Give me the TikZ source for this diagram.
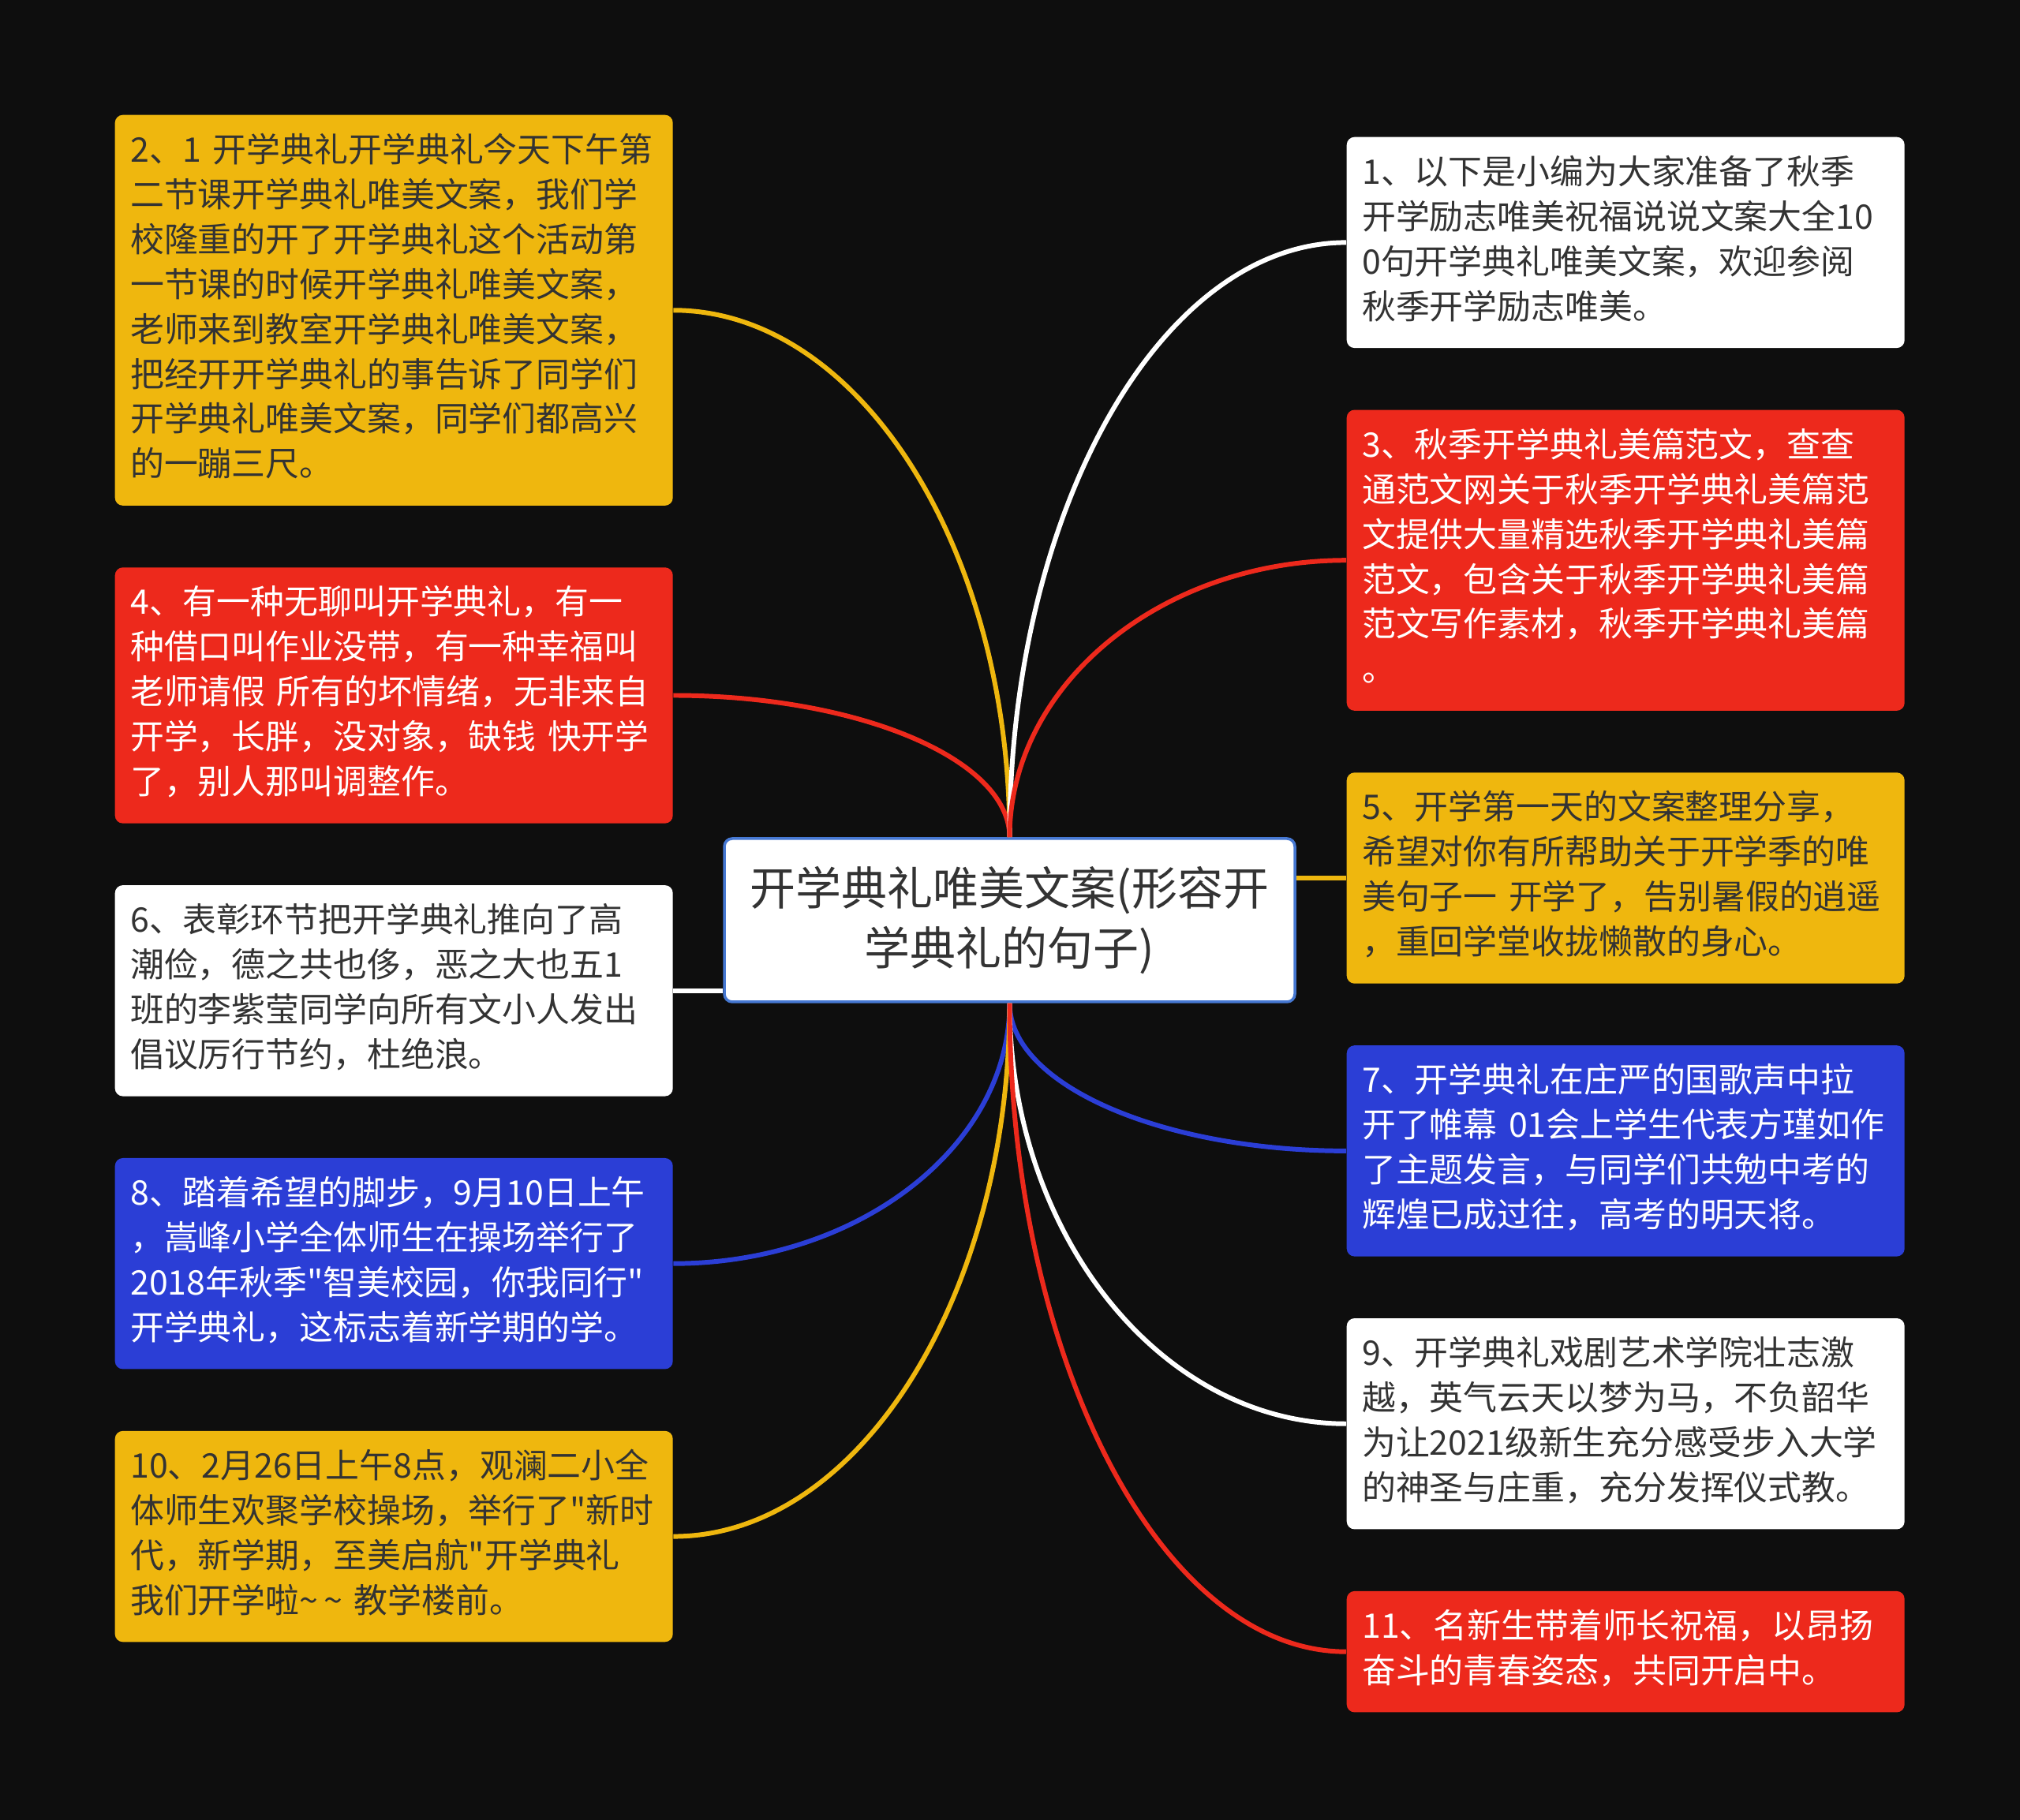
\documentclass[tikz,border=0pt]{standalone}
\usepackage{fontspec}
\setmainfont{Noto Sans CJK SC}
\usetikzlibrary{positioning,calc}
\definecolor{bgblack}{RGB}{14,14,14}
\definecolor{mapyellow}{RGB}{239,183,14}
\definecolor{mapred}{RGB}{237,41,28}
\definecolor{mapblue}{RGB}{43,62,214}
\definecolor{mapborder}{RGB}{70,120,210}
\definecolor{darktext}{RGB}{51,51,51}
\tikzstyle{box} = [rectangle, rounded corners=0.1cm, text width=6.68cm, align=left, inner xsep=0.195cm, inner ysep=5.65pt, font=\fontsize{12.2}{16.2}\selectfont, execute at begin node=\strut, execute at end node=\strut]
\tikzstyle{ybox} = [box, fill=mapyellow, text=darktext]
\tikzstyle{rbox} = [box, fill=mapred, text=white]
\tikzstyle{bbox} = [box, fill=mapblue, text=white]
\tikzstyle{wbox} = [box, fill=white, text=darktext]
\tikzstyle{main} = [rectangle, rounded corners=0.1cm, draw=mapborder, line width=1pt, fill=white, text=darktext, minimum width=7.23cm, minimum height=2.07cm, align=center, font=\fontsize{16.5}{21.8}\selectfont]
\tikzstyle{link} = [line width=1.7pt]
\tikzstyle{branch} = [link, to path={.. controls ($(\tikztostart)!0.55!(\tikztostart |- \tikztotarget)$) and ($(\tikztotarget)!0.55!(\tikztostart |- \tikztotarget)$) .. (\tikztotarget)}]

\begin{document}
\begin{tikzpicture}
    \fill[bgblack] (0,0) rectangle (25.6,23.07);
    \useasboundingbox (0,0) rectangle (25.6,23.07);

    \node [main] (root) at (12.795,11.405) {开学典礼唯美文案(形容开\\学典礼的句子)};

    % left column
    \node [ybox, anchor=north west] (n2) at (1.45,21.62) {2、1~开学典礼开学典礼今天下午第\\二节课开学典礼唯美文案，我们学\\校隆重的开了开学典礼这个活动第\\一节课的时候开学典礼唯美文案，\\老师来到教室开学典礼唯美文案，\\把经开开学典礼的事告诉了同学们\\开学典礼唯美文案，同学们都高兴\\的一蹦三尺。};
    \node [rbox, below=0.77cm of n2] (n4) {4、有一种无聊叫开学典礼，有一\\种借口叫作业没带，有一种幸福叫\\老师请假~所有的坏情绪，无非来自\\开学，长胖，没对象，缺钱~快开学\\了，别人那叫调整作。};
    \node [wbox, below=0.77cm of n4] (n6) {6、表彰环节把开学典礼推向了高\\潮俭，德之共也侈，恶之大也五1\\班的李紫莹同学向所有文小人发出\\倡议厉行节约，杜绝浪。};
    \node [bbox, below=0.77cm of n6] (n8) {8、踏着希望的脚步，9月10日上午\\，嵩峰小学全体师生在操场举行了\\2018年秋季\textquotedbl{}智美校园，你我同行\textquotedbl\\开学典礼，这标志着新学期的学。};
    \node [ybox, below=0.77cm of n8] (n10) {10、2月26日上午8点，观澜二小全\\体师生欢聚学校操场，举行了\textquotedbl{}新时\\代，新学期，至美启航\textquotedbl{}开学典礼\\我们开学啦\textasciitilde\,\textasciitilde~教学楼前。};

    % right column
    \node [wbox, anchor=north west] (n1) at (17.06,21.34) {1、以下是小编为大家准备了秋季\\开学励志唯美祝福说说文案大全10\\0句开学典礼唯美文案，欢迎参阅\\秋季开学励志唯美。};
    \node [rbox, below=0.77cm of n1] (n3) {3、秋季开学典礼美篇范文，查查\\通范文网关于秋季开学典礼美篇范\\文提供大量精选秋季开学典礼美篇\\范文，包含关于秋季开学典礼美篇\\范文写作素材，秋季开学典礼美篇\\。};
    \node [ybox, below=0.77cm of n3] (n5) {5、开学第一天的文案整理分享，\\希望对你有所帮助关于开学季的唯\\美句子一~开学了，告别暑假的逍遥\\，重回学堂收拢懒散的身心。};
    \node [bbox, below=0.77cm of n5] (n7) {7、开学典礼在庄严的国歌声中拉\\开了帷幕~01会上学生代表方瑾如作\\了主题发言，与同学们共勉中考的\\辉煌已成过往，高考的明天将。};
    \node [wbox, below=0.77cm of n7] (n9) {9、开学典礼戏剧艺术学院壮志激\\越，英气云天以梦为马，不负韶华\\为让2021级新生充分感受步入大学\\的神圣与庄重，充分发挥仪式教。};
    \node [rbox, below=0.77cm of n9] (n11) {11、名新生带着师长祝福，以昂扬\\奋斗的青春姿态，共同开启中。};

    % branches
    \draw [branch, mapyellow] (root.north) to (n2.east);
    \draw [branch, mapred] (root.north) to (n4.east);
    \draw [link, white] (n6.east) -- (n6.east -| root.west);
    \draw [branch, mapblue] (root.south) to (n8.east);
    \draw [branch, mapyellow] (root.south) to (n10.east);
    \draw [branch, white] (root.north) to (n1.west);
    \draw [branch, mapred] (root.north) to (n3.west);
    \draw [link, mapyellow] (n5.west) -- (n5.west -| root.east);
    \draw [branch, mapblue] (root.south) to (n7.west);
    \draw [branch, white] (root.south) to (n9.west);
    \draw [branch, mapred] (root.south) to (n11.west);
\end{tikzpicture}
\end{document}
